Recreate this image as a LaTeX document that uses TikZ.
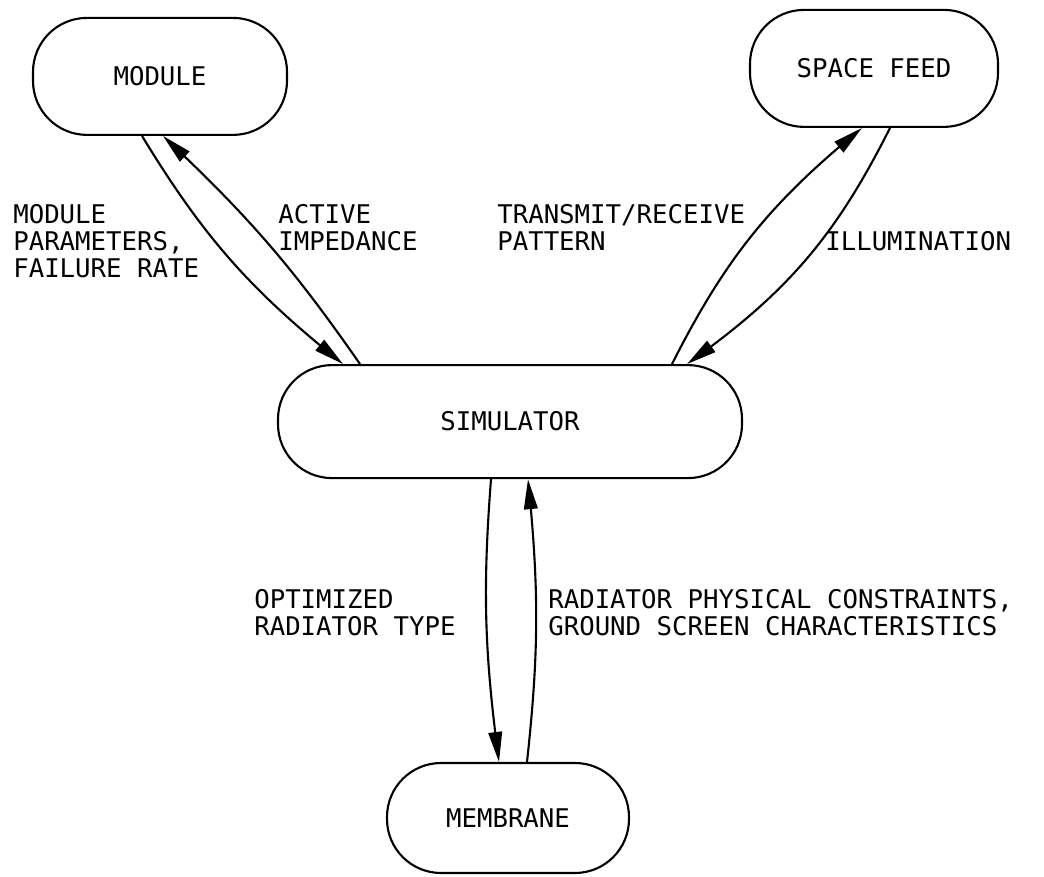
\documentclass[tikz,border=0pt]{standalone}
\usepackage{fontspec}
\setmonofont{DejaVu Sans Mono}
\usetikzlibrary{arrows.meta,bending}

\begin{document}
\begin{tikzpicture}[
    font=\ttfamily\fontsize{18.3}{19.2}\selectfont,
    box/.style={draw, line width=1.5pt, rounded corners=1.35cm, inner sep=0pt},
    lbl/.style={anchor=north west, align=left, inner sep=0pt},
    arr/.style={-{Triangle[length=0.75cm,width=0.34cm]}, line width=1.5pt}
  ]
    \useasboundingbox (0,0) rectangle (26.1,21.9);
    \node[box, minimum width=6.35cm, minimum height=2.925cm] (mod) at (4.0,19.99) {MODULE};
    \node[box, minimum width=6.2cm, minimum height=2.925cm] (feed) at (21.85,20.19) {SPACE FEED};
    \node[box, minimum width=11.6cm, minimum height=2.825cm] (sim) at (12.75,11.36) {SIMULATOR};
    \node[box, minimum width=6.05cm, minimum height=2.75cm] (memb) at (12.7,1.45) {MEMBRANE};
    % labels
    \node[lbl] (lpar) at (0.325,16.8) {MODULE\\PARAMETERS,\\FAILURE RATE};
    \node[lbl] (limp) at (6.95,16.8) {ACTIVE\\IMPEDANCE};
    \node[lbl] (lpat) at (12.425,16.8) {TRANSMIT/RECEIVE\\PATTERN};
    \node[lbl] (lill) at (20.625,16.125) {ILLUMINATION};
    \node[lbl] (lopt) at (6.35,7.175) {OPTIMIZED\\RADIATOR TYPE};
    \node[lbl] (lcon) at (13.7,7.175) {RADIATOR PHYSICAL CONSTRAINTS,\\GROUND SCREEN CHARACTERISTICS};
    % connectors
    \draw[arr] ([xshift=-0.45cm]mod.south) to[bend right=10] ([xshift=-4.175cm]sim.north);
    \draw[arr] ([xshift=-3.75cm]sim.north) to[bend right=6] ([xshift=0.075cm]mod.south);
    \draw[arr] ([xshift=4.05cm]sim.north) to[bend left=12] ([xshift=-0.3cm]feed.south);
    \draw[arr] ([xshift=0.4cm]feed.south) to[bend left=14] ([xshift=4.425cm]sim.north);
    \draw[arr] ([xshift=-0.475cm]sim.south) to[bend right=6] ([xshift=-0.225cm]memb.north);
    \draw[arr] ([xshift=0.475cm]memb.north) to[bend right=6] ([xshift=0.45cm]sim.south);
\end{tikzpicture}
\end{document}
